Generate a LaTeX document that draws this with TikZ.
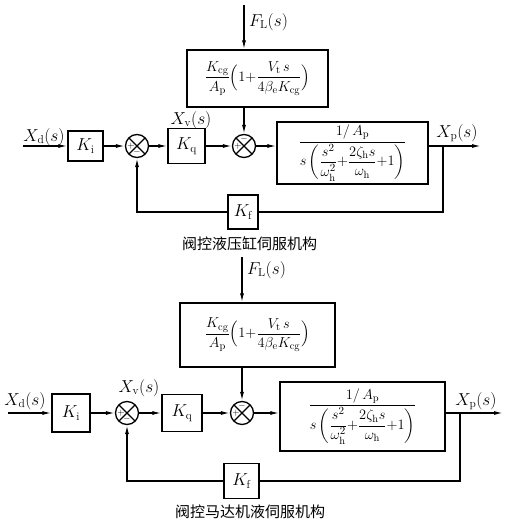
\documentclass[tikz,border=0pt]{standalone}
\usepackage{amsmath}
\usepackage{fontspec}
\newfontfamily\cjk{Noto Sans CJK SC}
\usetikzlibrary{arrows.meta,calc}
\tikzstyle{blk} = [draw, line width=1.3pt, inner sep=0pt, font=\fontsize{16.5}{19}\selectfont]
\tikzstyle{frm} = [blk, font=\fontsize{15}{17}\selectfont]
\tikzstyle{sum} = [draw, circle, line width=1.3pt, minimum size=23pt, inner sep=0pt,
  path picture={\draw[line width=1.3pt] (path picture bounding box.north west)--(path picture bounding box.south east)
    (path picture bounding box.north east)--(path picture bounding box.south west);}]
\tikzstyle{sig} = [inner sep=0pt, font=\fontsize{16.5}{19}\selectfont]
\tikzstyle{sgn} = [inner sep=0pt, font=\fontsize{9}{9}\selectfont]
\tikzstyle{title} = [inner sep=0pt, font=\cjk\fontsize{15}{17}\selectfont]
\tikzstyle{wire} = [line width=1.3pt]
\tikzstyle{sig line} = [wire, -{Latex[length=9pt,width=4pt]}]

\begin{document}
\begin{tikzpicture}[x=1pt,y=-1pt]
        \useasboundingbox (0,0) rectangle (507,525);
        % valve controlled cylinder
        \coordinate (in1) at (23,146);
        \coordinate (fl1) at (244,5);
        \coordinate (br1) at (443,146);
        \coordinate (out1) at (481,146);
        \node[blk,minimum width=35pt,minimum height=30pt](ki1) at (85.5,146){$K_{\mathrm{i}}$};
        \node[sum](sa1) at (137,146){};
        \node[blk,minimum width=37pt,minimum height=35pt](kq1) at (186.5,146){$K_{\mathrm{q}}$};
        \node[sum](sb1) at (244,146){};
        \node[frm,minimum width=141pt,minimum height=57pt](kcg1) at (257.5,78.5){$\dfrac{K_{\mathrm{cg}}}{A_{\mathrm{p}}}\Bigl(1{+}\dfrac{V_{\mathrm{t}}\,s}{4\beta_{\mathrm{e}}K_{\mathrm{cg}}}\Bigr)$};
        \node[frm,minimum width=151pt,minimum height=62pt](g1) at (352.5,153){$\dfrac{1/\,A_{\mathrm{p}}}{s\left(\dfrac{s^2}{\omega_{\mathrm{h}}^2}{+}\dfrac{2\zeta_{\mathrm{h}}s}{\omega_{\mathrm{h}}}{+}1\right)}$};
        \node[blk,minimum width=30pt,minimum height=34pt](kf1) at (243,212){$K_{\mathrm{f}}$};
        \node[sig](xd1) at (44,137){$X_{\mathrm{d}}(s)$};
        \node[sig](xv1) at (191,120){$X_{\mathrm{v}}(s)$};
        \node[sig](xp1) at (457,133){$X_{\mathrm{p}}(s)$};
        \node[sig,anchor=west](fll1) at (249,22){$F_{\mathrm{L}}(s)$};
        \node[sgn](pa1) at ($(sa1)+(-6,0)$){$+$};
        \node[sgn](ma1) at ($(sa1)+(0,6.5)$){$-$};
        \node[sgn](pb1) at ($(sb1)+(-6,0)$){$+$};
        \node[sgn](mb1) at ($(sb1)+(0,-6.5)$){$-$};
        \node[title](t1) at (249.5,243.5){阀控液压缸伺服机构};
        \draw[sig line](in1)--(ki1);
        \draw[sig line](ki1)--(sa1);
        \draw[sig line](sa1)--(kq1);
        \draw[sig line](kq1)--(sb1);
        \draw[sig line](fl1)--(fl1 |- kcg1.north);
        \draw[sig line](sb1 |- kcg1.south)--(sb1);
        \draw[sig line](sb1)--(sb1 -| g1.west);
        \draw[sig line](g1.east |- br1)--(out1);
        \draw[wire](br1)|-(kf1.east);
        \draw[sig line](kf1.west)-|(sa1.south);
        % valve controlled motor
        \coordinate (in2) at (8,413);
        \coordinate (fl2) at (242,257);
        \coordinate (br2) at (460,413);
        \coordinate (out2) at (503,413);
        \node[blk,minimum width=38pt,minimum height=38pt](ki2) at (71,413){$K_{\mathrm{i}}$};
        \node[sum](sa2) at (127,413){};
        \node[blk,minimum width=40pt,minimum height=37pt](kq2) at (182,413){$K_{\mathrm{q}}$};
        \node[sum](sb2) at (242,413){};
        \node[frm,minimum width=155pt,minimum height=64pt](kcg2) at (257.5,335){$\dfrac{K_{\mathrm{cg}}}{A_{\mathrm{p}}}\Bigl(1{+}\dfrac{V_{\mathrm{t}}\,s}{4\beta_{\mathrm{e}}K_{\mathrm{cg}}}\Bigr)$};
        \node[frm,minimum width=165pt,minimum height=69pt](g2) at (362.5,416.5){$\dfrac{1/\,A_{\mathrm{p}}}{s\left(\dfrac{s^2}{\omega_{\mathrm{h}}^2}{+}\dfrac{2\zeta_{\mathrm{h}}s}{\omega_{\mathrm{h}}}{+}1\right)}$};
        \node[blk,minimum width=35pt,minimum height=35pt](kf2) at (241.5,481){$K_{\mathrm{f}}$};
        \node[sig](xd2) at (25,401){$X_{\mathrm{d}}(s)$};
        \node[sig](xv2) at (139,388){$X_{\mathrm{v}}(s)$};
        \node[sig](xp2) at (476,401){$X_{\mathrm{p}}(s)$};
        \node[sig,anchor=west](fll2) at (247,270){$F_{\mathrm{L}}(s)$};
        \node[sgn](pa2) at ($(sa2)+(-6,0)$){$+$};
        \node[sgn](ma2) at ($(sa2)+(0,6.5)$){$-$};
        \node[sgn](pb2) at ($(sb2)+(-6,0)$){$+$};
        \node[sgn](mb2) at ($(sb2)+(0,-6.5)$){$-$};
        \node[title](t2) at (250,512){阀控马达机液伺服机构};
        \draw[sig line](in2)--(ki2);
        \draw[sig line](ki2)--(sa2);
        \draw[sig line](sa2)--(kq2);
        \draw[sig line](kq2)--(sb2);
        \draw[sig line](fl2)--(fl2 |- kcg2.north);
        \draw[sig line](sb2 |- kcg2.south)--(sb2);
        \draw[sig line](sb2)--(sb2 -| g2.west);
        \draw[sig line](g2.east |- br2)--(out2);
        \draw[wire](br2)|-(kf2.east);
        \draw[sig line](kf2.west)-|(sa2.south);
      \end{tikzpicture}
\end{document}
